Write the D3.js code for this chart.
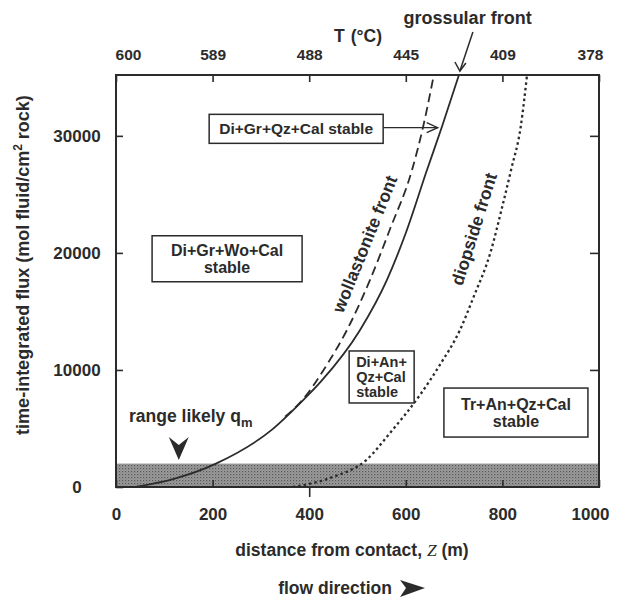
<!DOCTYPE html>
<html>
<head>
<meta charset="utf-8">
<script src="https://cdn.jsdelivr.net/npm/d3@7"></script>
<style>
  body { margin: 0; background: #fff; }
  svg text { font-family: "Liberation Sans", Arial, Helvetica, sans-serif; font-weight: bold; fill: #2b2b2b; }
</style>
</head>
<body>
<svg id="chart" width="623" height="599"></svg>
<script>
// axis ticks
const distTicks = [0, 200, 400, 600, 800, 1000];
const fluxTicks = [0, 10000, 20000, 30000];
const tempLabels = ["600", "589", "488", "445", "409", "378"];
const qmRange = [0, 2000];

// fronts: [distance (m), time-integrated flux]
const grossularFront = [[40, 0], [120, 700], [207, 2000], [323, 4900], [387, 7400], [424, 9000],
  [505, 13400], [561, 17700], [600, 21700], [644, 27100], [675, 30800], [710, 35200]];
const wollastoniteFront = [[350, 6000], [381, 7200], [439, 10600], [478, 13400], [526, 17700],
  [567, 22000], [613, 27100], [636, 30800], [658, 35200]];
const diopsideFront = [[366, 0], [445, 800], [518, 2300], [567, 4600], [630, 7900], [670, 10400],
  [712, 13400], [740, 16200], [775, 20000], [800, 24000], [818, 27100], [838, 30800], [851, 35200]];

(function draw() {
  const width = 623, height = 599;
  const margin = { top: 75, right: 24, bottom: 112, left: 116 };
  const innerW = width - margin.left - margin.right;
  const innerH = height - margin.top - margin.bottom;
  const ink = "#2b2b2b";

  const svg = d3.select("#chart");
  const defs = svg.append("defs");

  const pat = defs.append("pattern")
    .attr("id", "stipple").attr("patternUnits", "userSpaceOnUse")
    .attr("width", 3).attr("height", 3);
  pat.append("rect").attr("width", 3).attr("height", 3).attr("fill", "#9c9c9c");
  pat.append("rect").attr("width", 1.2).attr("height", 1.2).attr("fill", "#555");
  pat.append("rect").attr("x", 1.5).attr("y", 1.5).attr("width", 1).attr("height", 1).attr("fill", "#707070");

  defs.append("clipPath").attr("id", "plotClip")
    .append("rect").attr("width", innerW).attr("height", innerH);

  const x = d3.scaleLinear().domain([0, 1000]).range([0, innerW]);
  const y = d3.scaleLinear().domain([0, 35200]).range([innerH, 0]);

  const g = svg.append("g").attr("transform", `translate(${margin.left},${margin.top})`);

  // likely q_m band
  g.append("rect")
    .attr("x", x(0)).attr("width", x(1000) - x(0))
    .attr("y", y(qmRange[1])).attr("height", y(qmRange[0]) - y(qmRange[1]))
    .attr("fill", "url(#stipple)");

  const line = d3.line().x(d => x(d[0])).y(d => y(d[1])).curve(d3.curveMonotoneX);
  const curves = g.append("g").attr("clip-path", "url(#plotClip)").attr("fill", "none");

  curves.append("path").datum(grossularFront).attr("d", line)
    .attr("stroke", ink).attr("stroke-width", 1.8);
  curves.append("path").datum(wollastoniteFront).attr("d", line)
    .attr("stroke", ink).attr("stroke-width", 1.8).attr("stroke-dasharray", "9,5");
  curves.append("path").datum(diopsideFront).attr("d", line)
    .attr("stroke", ink).attr("stroke-width", 2.3).attr("stroke-dasharray", "2.5,3");

  // axes
  const styleAxis = sel => {
    sel.select(".domain").remove();
    sel.selectAll(".tick line").attr("stroke", ink).attr("stroke-width", 1.6);
    sel.selectAll("text").attr("fill", ink);
  };

  const left = g.append("g")
    .call(d3.axisLeft(y).tickValues(fluxTicks).tickSize(-7).tickFormat(d3.format("d")))
    .call(styleAxis);
  left.selectAll("text").attr("x", -39).attr("text-anchor", "middle").style("font-size", "17px");

  g.append("g").attr("transform", `translate(${innerW},0)`)
    .call(d3.axisRight(y).tickValues(fluxTicks.slice(1)).tickSize(-9).tickFormat(""))
    .call(styleAxis);

  const top = g.append("g")
    .call(d3.axisTop(x).tickValues(distTicks).tickSize(-7).tickFormat((d, i) => tempLabels[i]))
    .call(styleAxis);
  top.selectAll("text").attr("y", -15).attr("dy", 0).style("font-size", "15.5px")
    .attr("dx", d => d === 0 ? 12 : d === 1000 ? -9 : 0);

  const bottom = g.append("g").attr("transform", `translate(0,${innerH})`)
    .call(d3.axisBottom(x).tickValues(distTicks).tickSize(-7).tickFormat(d3.format("d")))
    .call(styleAxis);
  bottom.selectAll("text").attr("y", 33).attr("dy", 0).style("font-size", "17px")
    .attr("dx", d => d === 1000 ? -9 : 0);
  bottom.selectAll(".tick").filter(d => d === 400).select("line").attr("y2", 10);

  // frame
  g.append("rect").attr("width", innerW).attr("height", innerH)
    .attr("fill", "none").attr("stroke", ink).attr("stroke-width", 2);

  // field labels in boxes
  const fields = [
    { lines: ["Di+Gr+Qz+Cal stable"], d: 373, f: 30600, size: 15.5, w: 174, h: 29, lh: 15, align: "middle" },
    { lines: ["Di+Gr+Wo+Cal", "stable"], d: 230, f: 19500, size: 16, w: 150, h: 46, lh: 17.5, align: "middle" },
    { lines: ["Di+An+", "Qz+Cal", "stable"], d: 550, f: 9400, size: 14.5, w: 65, h: 52, lh: 15, align: "start" },
    { lines: ["Tr+An+Qz+Cal", "stable"], d: 828, f: 6360, size: 16, w: 144, h: 49, lh: 17.5, align: "middle" }
  ];
  fields.forEach(fd => {
    const cx = x(fd.d), cy = y(fd.f);
    g.append("rect")
      .attr("x", cx - fd.w / 2).attr("y", cy - fd.h / 2)
      .attr("width", fd.w).attr("height", fd.h)
      .attr("fill", "#fff").attr("stroke", ink).attr("stroke-width", 1.5);
    const capH = fd.size * 0.716;
    fd.lines.forEach((ln, i) => {
      g.append("text")
        .attr("text-anchor", fd.align)
        .style("font-size", fd.size + "px")
        .attr("x", fd.align === "start" ? cx - fd.w / 2 + 7 : cx)
        .attr("y", cy + capH / 2 + (i - (fd.lines.length - 1) / 2) * fd.lh)
        .text(ln);
    });
  });

  // arrow from Di+Gr+Qz+Cal box into the narrow field
  const arrowY = y(30700);
  g.append("line")
    .attr("x1", x(373) + 87).attr("x2", x(666))
    .attr("y1", arrowY).attr("y2", arrowY)
    .attr("stroke", ink).attr("stroke-width", 1.4);
  g.append("path")
    .attr("d", `M${x(666) - 11},${arrowY - 5} L${x(666)},${arrowY} L${x(666) - 11},${arrowY + 5}`)
    .attr("fill", "none").attr("stroke", ink).attr("stroke-width", 1.4);

  // front names
  g.append("text")
    .attr("transform", `translate(${x(515)},${y(20760)}) rotate(-68)`)
    .attr("text-anchor", "middle").attr("dy", "0.35em")
    .style("font-size", "17.5px").text("wollastonite front");
  g.append("text")
    .attr("transform", `translate(${x(741)},${y(22040)}) rotate(-72.6)`)
    .attr("text-anchor", "middle").attr("dy", "0.35em")
    .style("font-size", "17.5px").text("diopside front");

  // range likely q_m
  const rq = g.append("text")
    .attr("x", x(27)).attr("y", y(5550))
    .style("font-size", "17.5px");
  rq.append("tspan").text("range likely q");
  rq.append("tspan").attr("dy", 5).style("font-size", "13px").text("m");

  const ax = x(130), aTop = y(4270), aTip = y(2300);
  g.append("path")
    .attr("d", `M${ax - 10},${aTop} L${ax},${aTop + 8} L${ax + 10},${aTop} L${ax},${aTip} Z`)
    .attr("fill", ink);

  // grossular front label with arrow
  g.append("text")
    .attr("x", x(728)).attr("y", -51)
    .attr("text-anchor", "middle")
    .style("font-size", "18px").text("grossular front");
  const gx = x(712), gy = y(35200) - 4;
  g.append("line")
    .attr("x1", gx + 13).attr("y1", -43).attr("x2", gx).attr("y2", gy)
    .attr("stroke", ink).attr("stroke-width", 1.5);
  g.append("path")
    .attr("d", `M${gx - 5},${gy - 9} L${gx},${gy} L${gx + 6},${gy - 8}`)
    .attr("fill", "none").attr("stroke", ink).attr("stroke-width", 1.5);

  // axis titles
  const tt = svg.append("text")
    .attr("x", 358).attr("y", 42).attr("text-anchor", "middle")
    .style("font-size", "17.5px");
  tt.append("tspan").text("T");
  tt.append("tspan").attr("dx", 6).text("(°C)");

  const yt = svg.append("text")
    .attr("transform", "translate(29,265) rotate(-90)")
    .attr("text-anchor", "middle")
    .style("font-size", "18px");
  yt.append("tspan").text("time-integrated flux (mol fluid/cm");
  yt.append("tspan").attr("dy", -7).style("font-size", "12px").text("2");
  yt.append("tspan").attr("dy", 7).text(" rock)");

  const xt = svg.append("text")
    .attr("x", 352).attr("y", 556).attr("text-anchor", "middle")
    .style("font-size", "17.5px");
  xt.append("tspan").text("distance from contact, ");
  xt.append("tspan")
    .style("font-family", "'Liberation Serif', 'Times New Roman', serif")
    .style("font-style", "italic").style("font-weight", "normal")
    .text("Z");
  xt.append("tspan").text(" (m)");

  svg.append("text")
    .attr("x", 335).attr("y", 594).attr("text-anchor", "middle")
    .style("font-size", "17.5px").text("flow direction");
  svg.append("path")
    .attr("d", "M400,580 L425,588 L400,597 L406,588 Z")
    .attr("fill", ink);
})();
</script>
</body>
</html>
